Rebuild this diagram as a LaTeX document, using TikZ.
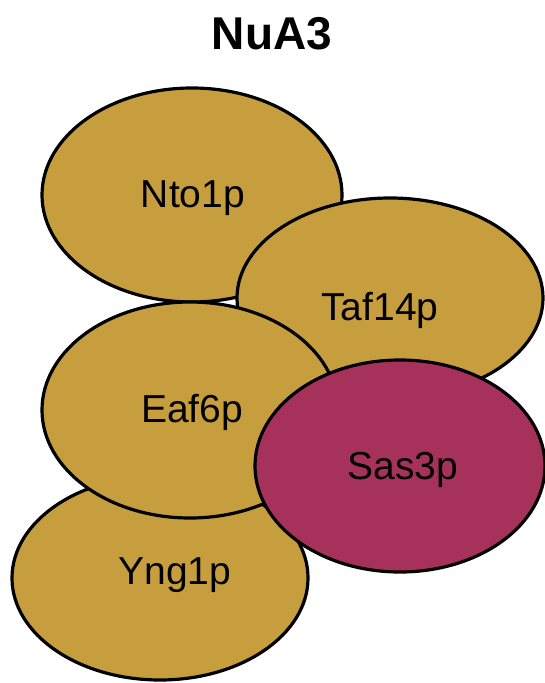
\documentclass[tikz,border=0pt]{standalone}
\usepackage{fontspec}
\setmainfont{Liberation Sans}
\usetikzlibrary{shapes.geometric}
\definecolor{subunit}{RGB}{198,158,62}
\definecolor{catalytic}{RGB}{166,50,92}
\tikzset{
  x=1pt, y=-1pt,
  protein/.style={ellipse, draw=black, line width=3.2pt, fill=subunit,
    inner sep=0pt, minimum width=#1},
  label/.style={font=\fontsize{39}{41}\selectfont, text=black},
}
\begin{document}
\begin{tikzpicture}
\useasboundingbox[fill=white] (0,0) rectangle (544,683);
\node[font=\bfseries\fontsize{46}{48}\selectfont] (title) at (272,34) {NuA3};
% complex subunits, back to front
\node[protein=296pt, minimum height=204pt] (yng) at (160,578) {};
\node[protein=300pt, minimum height=214pt] (nto) at (192,195) {};
\node[protein=306pt, minimum height=200pt] (taf) at (390,298) {};
\node[protein=296pt, minimum height=216pt] (eaf) at (190,410) {};
\node[protein=290pt, minimum height=212pt, fill=catalytic] (sas) at (400,466) {};
% labels
\node[label] at (193,198) {Nto1p};
\node[label] at (380,310) {Taf14p};
\node[label] at (192,412) {Eaf6p};
\node[label] at (403,470) {Sas3p};
\node[label] at (175,575) {Yng1p};
\end{tikzpicture}
\end{document}
